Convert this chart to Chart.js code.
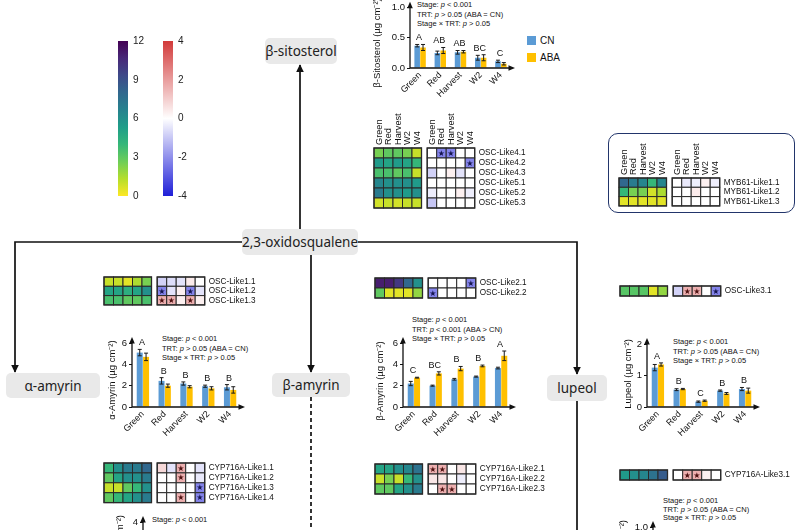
<!DOCTYPE html>
<html>
<head>
<meta charset="utf-8">
<script src="https://cdn.jsdelivr.net/npm/chart.js@4.4.1/dist/chart.umd.min.js"></script>
<style>
html,body{margin:0;padding:0;overflow:hidden;}
body{width:800px;height:530px;position:relative;background:#fff;font-family:"Liberation Sans",Arial,sans-serif;color:#111;}
canvas{position:absolute;}
.box{position:absolute;background:#e9e9e9;border-radius:5px;font-family:"Noto Sans",sans-serif;font-size:13.5px;color:#222;display:flex;align-items:center;justify-content:center;white-space:nowrap;}
.note{position:absolute;font-size:7.5px;line-height:9.5px;white-space:nowrap;}
.leg{position:absolute;font-size:10px;line-height:10px;}
.leg span{display:inline-block;width:9px;height:9px;vertical-align:-1px;margin-right:4px;}
#myb{position:absolute;left:608px;top:133px;width:187px;height:80px;border:1.5px solid #22356b;border-radius:10px;box-sizing:border-box;}
</style>
</head>
<body>
<svg width="800" height="530" style="position:absolute;left:0;top:0">
  <defs><marker id="ah" viewBox="0 0 10 10" refX="9" refY="5" markerWidth="4.5" markerHeight="4.5" orient="auto"><path d="M0,0 L10,5 L0,10 z" fill="#111"/></marker></defs>
  <g stroke="#111" stroke-width="1.7" fill="none">
    <path d="M300,229 V65" marker-end="url(#ah)"/>
    <path d="M242,242 H15 V372" marker-end="url(#ah)"/>
    <path d="M358,242 H577 V374" marker-end="url(#ah)"/>
    <path d="M311,255 V372" marker-end="url(#ah)"/>
    <path d="M311,397 V530" stroke-dasharray="4,3"/>
    <path d="M577,401 V530"/>
  </g>
</svg>
<div class="box" style="left:265px;top:38px;width:72px;height:26px">β-sitosterol</div>
<div class="box" style="left:242px;top:229px;width:116px;height:26px">2,3-oxidosqualene</div>
<div class="box" style="left:6px;top:373px;width:94px;height:25px">α-amyrin</div>
<div class="box" style="left:272px;top:373px;width:78px;height:24px">β-amyrin</div>
<div class="box" style="left:547px;top:375px;width:60px;height:26px">lupeol</div>
<div id="myb"></div>

<div class="note" style="left:417px;top:0px">Stage: <i>p</i> &lt; 0.001<br>TRT: <i>p</i> &gt; 0.05 (ABA = CN)<br>Stage × TRT: <i>p</i> &gt; 0.05</div>
<div class="note" style="left:162px;top:334px">Stage: <i>p</i> &lt; 0.001<br>TRT: <i>p</i> &gt; 0.05 (ABA = CN)<br>Stage × TRT: <i>p</i> &gt; 0.05</div>
<div class="note" style="left:412px;top:315px">Stage: <i>p</i> &lt; 0.001<br>TRT: <i>p</i> &lt; 0.001 (ABA &gt; CN)<br>Stage × TRT: <i>p</i> &gt; 0.05</div>
<div class="note" style="left:673px;top:337px">Stage: <i>p</i> &lt; 0.001<br>TRT: <i>p</i> &gt; 0.05 (ABA = CN)<br>Stage × TRT: <i>p</i> &gt; 0.05</div>
<div class="note" style="left:152px;top:515px">Stage: <i>p</i> &lt; 0.001</div>
<div class="note" style="left:663px;top:497px;line-height:8.5px">Stage: <i>p</i> &lt; 0.001<br>TRT: <i>p</i> &gt; 0.05 (ABA = CN)<br>Stage × TRT: <i>p</i> &gt; 0.05</div>

<div class="leg" style="left:527px;top:36px"><span style="background:#5b9bd5"></span>CN</div>
<div class="leg" style="left:527px;top:53px"><span style="background:#ffc000"></span>ABA</div>

<canvas id="cbV"></canvas><canvas id="cbRB"></canvas>
<canvas id="cSito"></canvas><canvas id="cAlpha"></canvas><canvas id="cBeta"></canvas><canvas id="cLup"></canvas>
<canvas id="cAlpha2"></canvas><canvas id="cLup2"></canvas>
<canvas id="hOsc45"></canvas><canvas id="hMyb"></canvas><canvas id="hOsc1"></canvas><canvas id="hOsc2"></canvas>
<canvas id="hOsc3"></canvas><canvas id="hCyp1"></canvas><canvas id="hCyp2"></canvas><canvas id="hCyp3"></canvas>

<script>
// ---------- data ----------
const stages = ['Green', 'Red', 'Harvest', 'W2', 'W4'];

const sitoCN = [0.37, 0.25, 0.26, 0.17, 0.11];
const sitoCNErr = [0.02, 0.03, 0.03, 0.04, 0.02];
const sitoABA = [0.34, 0.29, 0.27, 0.17, 0.07];
const sitoABAErr = [0.05, 0.05, 0.02, 0.05, 0.02];
const sitoLetters = ['A', 'AB', 'AB', 'BC', 'C'];

const alphaCN = [5.1, 2.45, 2.2, 1.95, 1.85];
const alphaCNErr = [0.3, 0.3, 0.15, 0.1, 0.25];
const alphaABA = [4.7, 2.0, 1.9, 1.75, 1.6];
const alphaABAErr = [0.35, 0.15, 0.1, 0.15, 0.3];
const alphaLetters = ['A', 'B', 'B', 'B', 'B'];

const betaCN = [2.2, 2.0, 2.6, 2.85, 3.65];
const betaCNErr = [0.2, 0.05, 0.08, 0.05, 0.08];
const betaABA = [2.75, 3.15, 3.6, 3.85, 4.8];
const betaABAErr = [0.04, 0.15, 0.2, 0.08, 0.45];
const betaLetters = ['C', 'BC', 'B', 'B', 'A'];

const lupCN = [1.25, 0.55, 0.17, 0.52, 0.57];
const lupCNErr = [0.1, 0.03, 0.02, 0.02, 0.05];
const lupABA = [1.35, 0.57, 0.2, 0.43, 0.52];
const lupABAErr = [0.05, 0.02, 0.02, 0.03, 0.08];
const lupLetters = ['A', 'B', 'C', 'B', 'B'];

const exprTicks = [0, 3, 6, 9, 12];
const foldTicks = [-4, -2, 0, 2, 4];

// expression level (0-12), fold change (-4..4), significance per cell
const osc45Genes = ['OSC-Like4.1', 'OSC-Like4.2', 'OSC-Like4.3', 'OSC-Like5.1', 'OSC-Like5.2', 'OSC-Like5.3'];
const osc45Expr = [[2.5, 3, 3, 2.5, 1], [5.5, 5, 5.5, 5, 4], [3.5, 3.5, 3, 3.5, 1], [6.5, 6, 6, 6, 5.5], [7, 6, 6, 5.5, 6], [0.8, 1, 0.8, 1, 1]];
const osc45Fold = [[0, -2.2, -2.2, 0, 0], [0, 0, 0, 0, -2.2], [-0.8, 0, 0.3, -0.5, 0], [0, 0, 0, 0, 0], [-0.3, 0, 0, 0.3, -0.3], [-1, 0, 0, 0, 0]];
const osc45Sig = [[0, 1, 1, 0, 0], [0, 0, 0, 0, 1], [0, 0, 0, 0, 0], [0, 0, 0, 0, 0], [0, 0, 0, 0, 0], [0, 0, 0, 0, 0]];

const mybGenes = ['MYB61-Like1.1', 'MYB61-Like1.2', 'MYB61-Like1.3'];
const mybExpr = [[8, 7, 6.5, 4, 6.5], [4, 2.5, 2.5, 0.8, 1.5], [0.5, 0.5, 0.5, 0.5, 0.5]];
const mybFold = [[0, -0.4, -0.3, 0.3, -0.3], [0, 0, 0.4, 0, 0], [0, 0, 0, 0, 0]];
const mybSig = [[0, 0, 0, 0, 0], [0, 0, 0, 0, 0], [0, 0, 0, 0, 0]];

const osc1Genes = ['OSC-Like1.1', 'OSC-Like1.2', 'OSC-Like1.3'];
const osc1Expr = [[1, 1, 0.5, 1.5, 2.5], [5, 5, 4.5, 5, 6], [3.5, 3.5, 3, 3, 3.5]];
const osc1Fold = [[-0.8, -0.6, -0.5, 0.4, 0], [-2.2, -0.5, 0.3, -2.2, -0.5], [1.6, 1.6, 0.3, 1.6, 0.3]];
const osc1Sig = [[0, 0, 0, 0, 0], [1, 0, 0, 1, 0], [1, 1, 0, 1, 0]];

const osc2Genes = ['OSC-Like2.1', 'OSC-Like2.2'];
const osc2Expr = [[11, 11, 10, 8, 6], [3, 0.5, 0.5, 0.5, 2]];
const osc2Fold = [[0, 0, 0, 0, -2.2], [-2.2, 0, 0, 0, 0]];
const osc2Sig = [[0, 0, 0, 0, 1], [1, 0, 0, 0, 0]];

const osc3Genes = ['OSC-Like3.1'];
const osc3Expr = [[3.2, 3.2, 3.2, 0.5, 2]];
const osc3Fold = [[-0.8, 1.6, 1.6, 0, -2.2]];
const osc3Sig = [[0, 1, 1, 0, 1]];

const cyp1Genes = ['CYP716A-Like1.1', 'CYP716A-Like1.2', 'CYP716A-Like1.3', 'CYP716A-Like1.4'];
const cyp1Expr = [[4, 6, 7, 7, 8], [3, 5, 6, 6, 7], [1, 1, 3, 4, 6], [3, 4, 5, 6, 7]];
const cyp1Fold = [[0.8, -0.5, 1.6, 0, -0.5], [0, 0, 1.6, 0, -0.4], [0, 0, 0, 0, -2.2], [0, 0, 1.6, 0, -2.2]];
const cyp1Sig = [[0, 0, 1, 0, 0], [0, 0, 1, 0, 0], [0, 0, 0, 0, 1], [0, 0, 1, 0, 1]];

const cyp2Genes = ['CYP716A-Like2.1', 'CYP716A-Like2.2', 'CYP716A-Like2.3'];
const cyp2Expr = [[5, 5, 6, 6.5, 7.5], [1, 2.5, 1, 4, 6], [3, 3, 5, 6, 7]];
const cyp2Fold = [[1.6, 1.6, 0, 0.5, 0], [0.5, 0.5, 0, -0.3, 0], [0, 1.6, 1.6, 0, 0]];
const cyp2Sig = [[1, 1, 0, 0, 0], [0, 0, 0, 0, 0], [0, 1, 1, 0, 0]];

const cyp3Genes = ['CYP716A-Like3.1'];
const cyp3Expr = [[5.5, 6, 6.5, 7.5, 8.5]];
const cyp3Fold = [[0, 1.6, 1.6, 0.3, 0]];
const cyp3Sig = [[0, 1, 1, 0, 0]];

// ---------- colours ----------
const VIR = ['#440154', '#482878', '#3e4989', '#31688e', '#26828e', '#1f9e89', '#35b779', '#6ece58', '#b5de2b', '#fde725'];
const BLUE = '#1f1fd8', RED = '#d23a3a';
function hex(c) { return [1, 3, 5].map(i => parseInt(c.substr(i, 2), 16)); }
function mix(a, b, f) {
  const A = hex(a), B = hex(b);
  return 'rgb(' + A.map((v, i) => Math.round(v + (B[i] - v) * f)).join(',') + ')';
}
function exprColor(v) {
  const t = 1 - Math.max(0, Math.min(12, v)) / 12;
  const p = t * (VIR.length - 1), i = Math.min(VIR.length - 2, Math.floor(p));
  return mix(VIR[i], VIR[i + 1], p - i);
}
function foldColor(v) {
  const f = Math.max(-4, Math.min(4, v)) / 4;
  return f < 0 ? mix('#ffffff', BLUE, -f) : mix('#ffffff', RED, f);
}

Chart.defaults.font.family = '"Liberation Sans", Arial, sans-serif';
Chart.defaults.color = '#111';

function place(el, l, t, w, h) {
  el.width = w; el.height = h;
  el.style.left = l + 'px'; el.style.top = t + 'px';
}

// ---------- bar charts ----------
const deco = {
  id: 'deco',
  afterDatasetsDraw(chart, args, opts) {
    const { ctx, chartArea: a, scales: { x, y } } = chart;
    ctx.save();
    ctx.strokeStyle = '#1b1b1b'; ctx.lineWidth = 1;
    chart.data.datasets.forEach((ds, di) => {
      chart.getDatasetMeta(di).data.forEach((bar, i) => {
        const e = ds.err[i];
        const yt = y.getPixelForValue(ds.data[i] + e), yb = y.getPixelForValue(Math.max(0, ds.data[i] - e));
        ctx.beginPath();
        ctx.moveTo(bar.x, yt); ctx.lineTo(bar.x, yb);
        ctx.moveTo(bar.x - 2, yt); ctx.lineTo(bar.x + 2, yt);
        ctx.moveTo(bar.x - 2, yb); ctx.lineTo(bar.x + 2, yb);
        ctx.stroke();
      });
    });
    if (opts.letters) {
      ctx.fillStyle = '#111'; ctx.font = '9px "Liberation Sans", Arial';
      ctx.textAlign = 'center'; ctx.textBaseline = 'bottom';
      opts.letters.forEach((t, i) => {
        const top = Math.max(...chart.data.datasets.map(ds => ds.data[i] + ds.err[i]));
        ctx.fillText(t, x.getPixelForValue(i) - 1, y.getPixelForValue(top) - 2);
      });
    }
    // axes with arrow heads
    ctx.strokeStyle = '#111'; ctx.fillStyle = '#111'; ctx.lineWidth = 1.3;
    ctx.beginPath();
    ctx.moveTo(a.left, a.top - 1); ctx.lineTo(a.left, a.bottom); ctx.lineTo(a.right, a.bottom);
    ctx.stroke();
    ctx.beginPath();
    ctx.moveTo(a.left, a.top - 6); ctx.lineTo(a.left - 2.8, a.top + 0.5); ctx.lineTo(a.left + 2.8, a.top + 0.5); ctx.fill();
    ctx.beginPath();
    ctx.moveTo(a.right + 4, a.bottom); ctx.lineTo(a.right - 2.5, a.bottom - 2.8); ctx.lineTo(a.right - 2.5, a.bottom + 2.8); ctx.fill();
    // y title
    const t = opts.title;
    ctx.save();
    ctx.translate(t.x, t.y); ctx.rotate(-Math.PI / 2);
    ctx.font = '9.5px "Liberation Sans", Arial'; ctx.textBaseline = 'middle'; ctx.textAlign = t.align || 'center';
    ctx.fillText(t.text, 0, 0);
    ctx.restore();
    ctx.restore();
  }
};

function barChart(id, cv, plot, title, ycfg, series, letters) {
  const el = document.getElementById(id);
  place(el, cv.l, cv.t, cv.w, cv.h);
  new Chart(el, {
    type: 'bar',
    data: {
      labels: stages,
      datasets: series.map(s => ({
        label: s.label, data: s.data, err: s.err, backgroundColor: s.color,
        categoryPercentage: 0.58, barPercentage: 0.95
      }))
    },
    options: {
      responsive: false, animation: false, devicePixelRatio: 1,
      layout: { padding: { left: 0, top: plot.t - cv.t, right: cv.l + cv.w - plot.r, bottom: 0 } },
      plugins: {
        legend: { display: false }, tooltip: { enabled: false },
        deco: { letters: letters, title: { text: title.text, x: title.x - cv.l, y: title.y - cv.t, align: title.align } }
      },
      scales: {
        x: {
          ticks: { minRotation: 45, maxRotation: 45, autoSkip: false, font: { size: 9 }, color: '#111', padding: 2 },
          grid: { display: false, drawTicks: false }, border: { display: false },
          afterFit: s => { s.height = cv.t + cv.h - plot.b; }
        },
        y: {
          min: ycfg.min, max: ycfg.max,
          ticks: { stepSize: ycfg.step, callback: ycfg.fmt, font: { size: 9.5 }, color: '#111', padding: 2 },
          grid: { drawOnChartArea: false, tickLength: 3, color: '#111' }, border: { display: false },
          afterFit: s => { s.width = plot.l - cv.l; }
        }
      }
    },
    plugins: [deco]
  });
}

const pair = (cn, cnE, aba, abaE) => [
  { label: 'CN', data: cn, err: cnE, color: '#5b9bd5' },
  { label: 'ABA', data: aba, err: abaE, color: '#ffc000' }
];

barChart('cSito', { l: 360, t: 0, w: 165, h: 115 }, { l: 410, r: 511, t: 5, b: 68 },
  { text: 'β-Sitosterol (µg cm⁻²)', x: 377, y: 43 },
  { min: 0, max: 1, step: 0.5, fmt: v => v.toFixed(1) },
  pair(sitoCN, sitoCNErr, sitoABA, sitoABAErr), sitoLetters);
barChart('cAlpha', { l: 95, t: 330, w: 160, h: 120 }, { l: 132, r: 241, t: 343, b: 407 },
  { text: 'α-Amyrin (µg cm⁻²)', x: 112, y: 380 },
  { min: 0, max: 6, step: 2 },
  pair(alphaCN, alphaCNErr, alphaABA, alphaABAErr), alphaLetters);
barChart('cBeta', { l: 360, t: 330, w: 165, h: 120 }, { l: 403, r: 512, t: 343, b: 407 },
  { text: 'β-Amyrin (µg cm⁻²)', x: 380, y: 381 },
  { min: 0, max: 6, step: 2 },
  pair(betaCN, betaCNErr, betaABA, betaABAErr), betaLetters);
barChart('cLup', { l: 605, t: 330, w: 165, h: 120 }, { l: 647, r: 756, t: 344, b: 407 },
  { text: 'Lupeol (µg cm⁻²)', x: 628, y: 374 },
  { min: 0, max: 2, step: 1 },
  pair(lupCN, lupCNErr, lupABA, lupABAErr), lupLetters);
// charts that continue below the figure edge: only their top is visible
barChart('cAlpha2', { l: 100, t: 510, w: 160, h: 110 }, { l: 143, r: 252, t: 522, b: 590 },
  { text: '(µg cm⁻²)', x: 120, y: 515, align: 'right' },
  { min: 0, max: 4, step: 2 }, [], null);
barChart('cLup2', { l: 605, t: 512, w: 165, h: 110 }, { l: 653, r: 762, t: 527, b: 590 },
  { text: '(µg cm⁻²)', x: 623, y: 520, align: 'right' },
  { min: 0, max: 1, step: 0.5, fmt: v => v.toFixed(1) }, [], null);

// ---------- colour bars ----------
function colorBar(id, l, min, max, ticks, stops) {
  const el = document.getElementById(id);
  place(el, l, 30, 40, 177);
  new Chart(el, {
    type: 'bar',
    data: {
      labels: [''],
      datasets: [{
        data: [[min, max]], categoryPercentage: 1, barPercentage: 1,
        backgroundColor: c => {
          const a = c.chart.chartArea;
          if (!a) return '#ccc';
          const g = c.chart.ctx.createLinearGradient(0, a.bottom, 0, a.top);
          stops.forEach((s, i) => g.addColorStop(i / (stops.length - 1), s));
          return g;
        }
      }]
    },
    options: {
      responsive: false, animation: false, devicePixelRatio: 1,
      layout: { padding: { left: 0, top: 7, right: 0, bottom: 7 } },
      plugins: { legend: { display: false }, tooltip: { enabled: false } },
      scales: {
        x: { display: false },
        y: {
          position: 'right', min: min, max: max,
          afterBuildTicks: s => { s.ticks = ticks.map(v => ({ value: v })); },
          ticks: { font: { size: 10 }, color: '#222', padding: 5 },
          grid: { display: false, drawTicks: false }, border: { display: false },
          afterFit: s => { s.width = 30; }
        }
      }
    }
  });
}
colorBar('cbV', 118, 0, 12, exprTicks, VIR.slice().reverse());
colorBar('cbRB', 163, -4, 4, foldTicks, [BLUE, '#ffffff', RED]);

// ---------- heatmaps ----------
const GAP = 0.6;
const heat = {
  id: 'heat',
  afterDatasetsDraw(chart, args, o) {
    const { ctx, scales: { x, y } } = chart;
    ctx.save();
    const grid = (vals, off, colorFn) => {
      vals.forEach((row, r) => row.forEach((v, c) => {
        const x0 = x.getPixelForValue(off + c), x1 = x.getPixelForValue(off + c + 1);
        const y0 = y.getPixelForValue(r), y1 = y.getPixelForValue(r + 1);
        ctx.fillStyle = colorFn(v);
        ctx.fillRect(x0, y0, x1 - x0, y1 - y0);
        ctx.strokeStyle = '#2a2a2a'; ctx.lineWidth = 1;
        ctx.strokeRect(x0, y0, x1 - x0, y1 - y0);
      }));
      const xa = x.getPixelForValue(off), xb = x.getPixelForValue(off + 5);
      ctx.lineWidth = 1.3;
      ctx.strokeRect(xa, y.getPixelForValue(0), xb - xa, y.getPixelForValue(vals.length) - y.getPixelForValue(0));
    };
    grid(o.expr, 0, exprColor);
    grid(o.fold, 5 + GAP, foldColor);
    ctx.font = '8px "DejaVu Sans"'; ctx.textAlign = 'center'; ctx.textBaseline = 'middle';
    o.sig.forEach((row, r) => row.forEach((s, c) => {
      if (!s) return;
      ctx.fillStyle = o.fold[r][c] < 0 ? '#15154f' : '#4d1010';
      ctx.fillText('★', x.getPixelForValue(5 + GAP + c + 0.5), y.getPixelForValue(r + 0.5) + 0.5);
    }));
    ctx.fillStyle = '#111'; ctx.font = '8.2px "Liberation Sans", Arial'; ctx.textAlign = 'left';
    o.genes.forEach((g, r) => ctx.fillText(g, x.getPixelForValue(10 + GAP) + 4, y.getPixelForValue(r + 0.5)));
    if (o.cols) {
      ctx.font = '9.2px "Liberation Sans", Arial';
      [0, 5 + GAP].forEach(off => stages.forEach((s, c) => {
        ctx.save();
        ctx.translate(x.getPixelForValue(off + c + 0.5) + 0.5, y.getPixelForValue(0) - 3);
        ctx.rotate(-Math.PI / 2);
        ctx.fillText(s, 0, 0);
        ctx.restore();
      }));
    }
    ctx.restore();
  }
};

function heatmap(id, left, top, rowH, genes, expr, fold, sig, cols) {
  const el = document.getElementById(id);
  const cell = 9.5, colH = cols ? 38 : 0, labW = 92;
  const gw = cell * (10 + GAP);
  place(el, left - 2, top - colH - 2, Math.ceil(gw + labW + 2), Math.ceil(rowH * genes.length + colH + 4));
  new Chart(el, {
    type: 'scatter',
    data: { datasets: [] },
    options: {
      responsive: false, animation: false, devicePixelRatio: 1,
      layout: { padding: { left: 2, top: colH + 2, right: el.width - 2 - gw, bottom: el.height - colH - 2 - rowH * genes.length } },
      plugins: { legend: { display: false }, tooltip: { enabled: false },
        heat: { genes: genes, expr: expr, fold: fold, sig: sig, cols: cols } },
      scales: {
        x: { type: 'linear', min: 0, max: 10 + GAP, display: false },
        y: { type: 'linear', min: 0, max: genes.length, reverse: true, display: false }
      }
    },
    plugins: [heat]
  });
}

heatmap('hOsc45', 374, 148, 10, osc45Genes, osc45Expr, osc45Fold, osc45Sig, true);
heatmap('hMyb', 619, 177.5, 9.3, mybGenes, mybExpr, mybFold, mybSig, true);
heatmap('hOsc1', 104, 276.5, 9.3, osc1Genes, osc1Expr, osc1Fold, osc1Sig, false);
heatmap('hOsc2', 375, 278, 10, osc2Genes, osc2Expr, osc2Fold, osc2Sig, false);
heatmap('hOsc3', 620, 286, 10, osc3Genes, osc3Expr, osc3Fold, osc3Sig, false);
heatmap('hCyp1', 104, 462.5, 9.9, cyp1Genes, cyp1Expr, cyp1Fold, cyp1Sig, false);
heatmap('hCyp2', 375, 464, 10, cyp2Genes, cyp2Expr, cyp2Fold, cyp2Sig, false);
heatmap('hCyp3', 620, 470, 10, cyp3Genes, cyp3Expr, cyp3Fold, cyp3Sig, false);
</script>
</body>
</html>
